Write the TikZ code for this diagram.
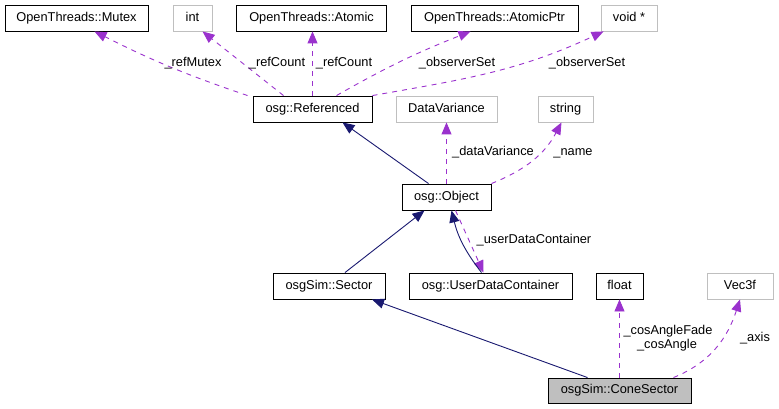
\documentclass[tikz,border=0pt]{standalone}
\usepackage{fontspec}
\setmainfont{Liberation Sans}
\usetikzlibrary{arrows.meta}
\definecolor{inh}{HTML}{191970}
\definecolor{use}{HTML}{9A32CD}
\definecolor{grayb}{HTML}{BFBFBF}
\begin{document}
\begin{tikzpicture}[x=1pt,y=-1pt,
  font=\fontsize{12.8}{14}\selectfont,
  box/.style={draw=black,line width=0.9pt,inner sep=0pt,minimum height=26pt,text height=9pt,text depth=2.5pt,fill=white},
  gbox/.style={box,draw=grayb},
  usedge/.style={draw=use,line width=0.9pt,dash pattern=on 5pt off 5pt,-{Triangle[length=12pt,width=10pt]}},
  inhedge/.style={draw=inh,line width=0.9pt,-{Triangle[length=12pt,width=10pt]}},
  lbl/.style={inner sep=0pt,text height=9pt,text depth=2.5pt,align=center}]
\useasboundingbox (0,0) rectangle (779,409);
% nodes
\node[box,minimum width=143pt] (mutex) at (76.5,18) {OpenThreads::Mutex};
\node[gbox,minimum width=39pt] (int) at (192.5,18) {int};
\node[box,minimum width=150pt] (atomic) at (311.5,18) {OpenThreads::Atomic};
\node[box,minimum width=167pt] (atomicptr) at (494.5,18) {OpenThreads::AtomicPtr};
\node[gbox,minimum width=56pt] (voidp) at (629,18) {void *};
\node[box,minimum width=119pt] (ref) at (312.5,109) {osg::Referenced};
\node[gbox,minimum width=101pt] (dv) at (446.5,109) {DataVariance};
\node[gbox,minimum width=55pt] (string) at (565.5,109) {string};
\node[box,minimum width=89pt] (obj) at (446.5,197) {osg::Object};
\node[box,minimum width=112pt] (sector) at (329,286) {osgSim::Sector};
\node[box,minimum width=163pt] (udc) at (490.5,286) {osg::UserDataContainer};
\node[box,minimum width=47pt] (float) at (619.5,286) {float};
\node[gbox,minimum width=66pt] (vec) at (740,286) {Vec3f};
\node[box,minimum width=143pt,minimum height=25pt,fill=grayb] (cone) at (619.5,390.5) {osgSim::ConeSector};
% usage edges
\draw[usedge] ([xshift=-5pt]ref.north west) to[bend left=4] ([xshift=18pt]mutex.south);
\draw[usedge] ([xshift=-29pt]ref.north) -- ([xshift=10pt]int.south);
\draw[usedge] (ref.north) -- (ref.north |- atomic.south);
\draw[usedge] ([xshift=24pt]ref.north) to[bend left=4] ([xshift=-24pt]atomicptr.south);
\draw[usedge] (ref.north east) to[out=10,in=-155] ([xshift=3pt]voidp.south west);
\draw[usedge] (obj.north east) to[out=22,in=-118] ([xshift=-4pt]string.south);
\draw[usedge] (obj.north) -- (obj.north |- dv.south);
\draw[usedge] ([xshift=9pt]obj.south) -- ([xshift=-7pt]udc.north);
\draw[usedge] (cone.north) -- (cone.north |- float.south);
\draw[usedge] ([xshift=-18pt]cone.north east) to[out=22,in=-108] (vec.south);
% inheritance edges
\draw[inhedge] ([xshift=-18pt]obj.north) -- ([xshift=30pt]ref.south);
\draw[inhedge] ([xshift=16pt]sector.north) -- ([xshift=-22pt]obj.south);
\draw[inhedge] ([xshift=-9pt]udc.north) to[bend left=12] ([xshift=5pt]obj.south);
\draw[inhedge] ([xshift=-32pt]cone.north) -- ([xshift=43pt]sector.south);
% labels
\node[lbl] (l1) at (193,63) {\_refMutex};
\node[lbl] (l2) at (277,63) {\_refCount};
\node[lbl] (l3) at (344,63) {\_refCount};
\node[lbl] (l4) at (457,63) {\_observerSet};
\node[lbl] (l5) at (587,63) {\_observerSet};
\node[lbl] (l6) at (493,152) {\_dataVariance};
\node[lbl] (l7) at (573,152) {\_name};
\node[lbl] (l8) at (534,240) {\_userDataContainer};
\node[lbl] (l9) at (668,331) {\_cosAngleFade};
\node[lbl] (l10) at (667,345) {\_cosAngle};
\node[lbl] (l11) at (755,338) {\_axis};
\end{tikzpicture}
\end{document}
